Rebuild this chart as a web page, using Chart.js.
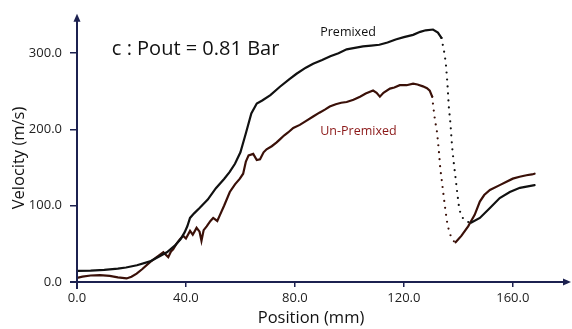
<!DOCTYPE html>
<html>
<head>
<meta charset="utf-8">
<script src="https://cdn.jsdelivr.net/npm/chart.js@4/dist/chart.umd.min.js"></script>
<style>
  html, body { margin: 0; padding: 0; background: #fff; }
  #wrap { width: 572px; height: 329px; position: relative; }
</style>
</head>
<body>
<div id="wrap"><canvas id="velChart"></canvas></div>
<script>
// 위치(mm) / 속도(m/s) 데이터 - 그림에서 읽은 값
const premixedPos = [0, 5, 10, 15, 18, 22, 26.8, 30, 33, 36, 38, 39.5, 40.5, 41.5, 43, 45, 48, 51, 54, 56, 58, 60, 62, 64, 66, 68, 71, 74.5, 78, 80.6, 84, 86.7, 90, 93, 96, 99, 102, 105, 108, 111, 114, 117, 120, 123.4, 126, 128, 130.7, 132.5, 133.8,
  135, 135.5, 136, 136.5, 137.1, 137.7, 138.3, 139, 139.7, 140.3, 141.1, 143, 144.8,
  147.9, 151.6, 155.2, 158.9, 162.6, 168];
const premixedVel = [14.5, 15, 16, 17.5, 19, 22, 27, 33, 39, 48, 56, 65, 73, 84, 90, 97, 108, 123, 135, 144, 155, 170, 195, 221, 234, 238, 245, 256, 266, 273, 281, 286, 291, 296, 300, 305, 307, 309, 310, 311, 314, 318, 321, 324, 328, 330, 331, 327, 320,
  298, 283, 260, 230, 208, 178, 157, 136, 114, 97, 86, 79, 78,
  84, 97, 110, 118, 123.5, 127];

const unpremixedPos = [0, 2, 5, 8.4, 12, 15, 18.2, 20, 21.9, 24, 26.8, 29, 31.7, 32.5, 33.5, 34.5, 35.3, 36.5, 37.8, 39, 40, 41.5, 42.5, 43.9, 45, 45.7, 46.5, 47.6, 49, 50, 51.5, 52.5, 54, 56.1, 58, 59.8, 61, 62, 63, 64.7, 66, 67.2, 68.5, 69.6, 71.5, 73.3, 74.5, 76, 77.5, 79.4, 81.8, 84, 86.7, 89, 91, 92.8, 95, 97, 99, 101.5, 103.9, 106, 108.7, 110, 111.2, 112.5, 114.9, 116.5, 118.5, 121, 123.4, 125, 127, 128.5, 129.5, 130.4,
  130.8, 131.4, 132.2, 132.8, 133.4, 134, 134.7, 135.3, 136, 136.9, 138.1, 139,
  141.1, 143.6, 146, 147.9, 149.5, 151.6, 155.2, 157.5, 160, 162.5, 165, 167, 168];
const unpremixedVel = [5.5, 7, 8.5, 9, 8, 6, 4.7, 7, 11, 17, 26, 32, 39, 36, 32.6, 40, 43, 50, 56, 60.5, 57, 67, 62, 71, 66, 54, 68, 73, 80, 84, 80, 88, 100, 118, 128, 135.5, 142, 158, 166, 168, 160, 161, 170, 174, 178, 183, 187, 192, 196, 202, 206, 211, 217, 222, 226, 230, 233, 235, 236, 239, 243, 247, 251, 248, 243, 248, 253.5, 255, 258, 258, 260, 259, 256.5, 254, 251, 243,
  230, 213, 196, 174, 148, 131, 110, 93, 75.5, 63, 54, 52,
  60.5, 73, 88, 105.5, 114, 120.6, 127, 131, 135.5, 138, 140, 141, 142];

// 점선 구간 (급강하)
const premixedDrop = [133.8, 144.8];
const unpremixedDrop = [130.4, 139];

const xTicks = [0, 40, 80, 120, 160];
const yTicks = [0, 100, 200, 300];

const AXIS_COLOR = '#1c2150';
const FONT = "'Open Sans', sans-serif";

function toPoints(xs, ys) {
    return xs.map((x, i) => ({ x: x, y: ys[i] }));
}

function dropDash(range) {
    return ctx => (ctx.p0.parsed.x >= range[0] && ctx.p1.parsed.x <= range[1]) ? [0, 7] : undefined;
}

// 축 화살표 + 텍스트 플러그인
const decorPlugin = {
    id: 'decor',
    afterDraw(chart) {
        const { ctx, chartArea, scales } = chart;
        const x = scales.x, y = scales.y;
        ctx.save();
        ctx.strokeStyle = AXIS_COLOR;
        ctx.fillStyle = AXIS_COLOR;
        ctx.lineWidth = 2;

        // y축
        ctx.beginPath();
        ctx.moveTo(chartArea.left, chartArea.bottom + 7);
        ctx.lineTo(chartArea.left, chartArea.top + 4);
        ctx.stroke();
        ctx.beginPath();
        ctx.moveTo(chartArea.left, chartArea.top - 2);
        ctx.lineTo(chartArea.left - 3.5, chartArea.top + 6);
        ctx.lineTo(chartArea.left + 3.5, chartArea.top + 6);
        ctx.closePath();
        ctx.fill();

        // x축
        ctx.beginPath();
        ctx.moveTo(chartArea.left - 7, chartArea.bottom);
        ctx.lineTo(chartArea.right - 4, chartArea.bottom);
        ctx.stroke();
        ctx.beginPath();
        ctx.moveTo(chartArea.right + 1, chartArea.bottom);
        ctx.lineTo(chartArea.right - 7, chartArea.bottom - 3.5);
        ctx.lineTo(chartArea.right - 7, chartArea.bottom + 3.5);
        ctx.closePath();
        ctx.fill();

        // 텍스트
        ctx.textBaseline = 'middle';
        ctx.fillStyle = '#111';
        ctx.textAlign = 'left';
        ctx.font = '20px ' + FONT;
        ctx.fillText('c : Pout = 0.81 Bar', x.getPixelForValue(12.8), y.getPixelForValue(305));

        ctx.font = '12.5px ' + FONT;
        ctx.fillText('Premixed', x.getPixelForValue(89.3), y.getPixelForValue(327));

        ctx.fillStyle = '#8b1717';
        ctx.font = '12.5px ' + FONT;
        ctx.fillText('Un-Premixed', x.getPixelForValue(89.3), y.getPixelForValue(198));

        // 축 제목
        ctx.fillStyle = '#111';
        ctx.font = '16.5px ' + FONT;
        ctx.textAlign = 'center';
        ctx.fillText('Position (mm)', 311, 318);
        ctx.translate(19, 158);
        ctx.rotate(-Math.PI / 2);
        ctx.fillText('Velocity (m/s)', 0, 0);
        ctx.restore();
    }
};

const chart = new Chart(document.getElementById('velChart'), {
    type: 'line',
    data: {
        datasets: [
            {
                label: 'Premixed',
                data: toPoints(premixedPos, premixedVel),
                borderColor: '#111111',
                borderWidth: 2.2,
                borderCapStyle: 'round',
                pointRadius: 0,
                tension: 0,
                segment: { borderDash: dropDash(premixedDrop) }
            },
            {
                label: 'Un-Premixed',
                data: toPoints(unpremixedPos, unpremixedVel),
                borderColor: '#3a1008',
                borderWidth: 2.2,
                borderCapStyle: 'round',
                pointRadius: 0,
                tension: 0,
                segment: { borderDash: dropDash(unpremixedDrop) }
            }
        ]
    },
    options: {
        responsive: true,
        maintainAspectRatio: false,
        animation: false,
        layout: { padding: { left: 0, top: 11, right: 2, bottom: 0 } },
        plugins: {
            legend: { display: false },
            tooltip: { enabled: false }
        },
        scales: {
            x: {
                type: 'linear',
                min: 0,
                max: 181,
                afterBuildTicks: s => { s.ticks = xTicks.map(v => ({ value: v })); },
                afterFit: s => { s.height = 47; },
                border: { display: false },
                grid: {
                    drawOnChartArea: false,
                    drawTicks: true,
                    tickLength: 5,
                    color: AXIS_COLOR,
                    lineWidth: 1.5
                },
                ticks: {
                    color: '#222',
                    padding: 3,
                    maxRotation: 0,
                    font: { family: FONT, size: 13 },
                    callback: v => v.toFixed(1)
                }
            },
            y: {
                type: 'linear',
                min: 0,
                max: 349,
                afterBuildTicks: s => { s.ticks = yTicks.map(v => ({ value: v })); },
                afterFit: s => { s.width = 77; },
                border: { display: false },
                grid: {
                    drawOnChartArea: false,
                    drawTicks: true,
                    tickLength: 7,
                    color: AXIS_COLOR,
                    lineWidth: 1.5
                },
                ticks: {
                    color: '#222',
                    padding: 8,
                    font: { family: FONT, size: 13 },
                    callback: v => v.toFixed(1)
                }
            }
        }
    },
    plugins: [decorPlugin]
});
</script>
</body>
</html>
